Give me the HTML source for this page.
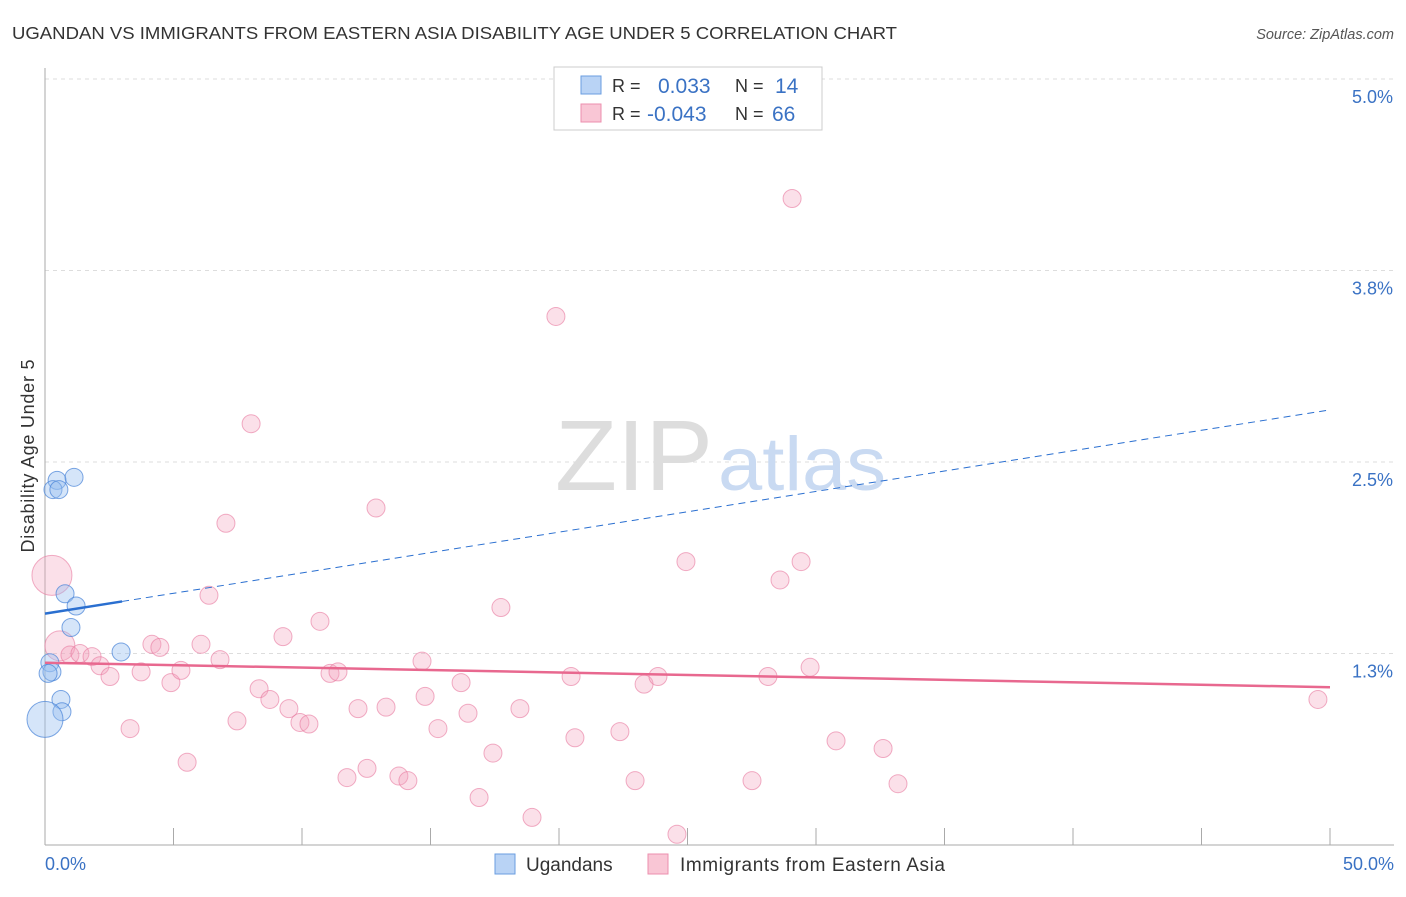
<!DOCTYPE html>
<html><head><meta charset="utf-8"><style>
body{margin:0;background:#fff;font-family:"Liberation Sans",sans-serif}
svg text{font-family:"Liberation Sans",sans-serif}
</style></head><body>
<svg width="1406" height="892">
<text x="12" y="39" font-size="17.5" fill="#333" textLength="885" lengthAdjust="spacingAndGlyphs">UGANDAN VS IMMIGRANTS FROM EASTERN ASIA DISABILITY AGE UNDER 5 CORRELATION CHART</text>
<text x="1394" y="39" font-size="14.5" fill="#555" font-style="italic" text-anchor="end">Source: ZipAtlas.com</text>
<g id="grid"></g>
<text x="555" y="490" font-size="100" fill="#ddd" font-family="Liberation Serif" textLength="158" lengthAdjust="spacingAndGlyphs">ZIP</text>
<text x="718" y="490" font-size="76" fill="#c9daf2" textLength="168" lengthAdjust="spacingAndGlyphs">atlas</text>
<g id="marks"></g>
<text transform="translate(34,456) rotate(-90)" font-size="18" fill="#333" text-anchor="middle" textLength="193">Disability Age Under 5</text>
<text x="45" y="870" font-size="18" fill="#3a72c4">0.0%</text>
<text x="1394" y="870" font-size="18" fill="#3a72c4" text-anchor="end">50.0%</text>
<g>
<rect x="554" y="67" width="268" height="63" fill="#fff" stroke="#ccc"/>
<rect x="581" y="76" width="20" height="18" fill="#b9d3f5" stroke="#6a9ee0"/>
<rect x="581" y="104" width="20" height="18" fill="#f9c6d5" stroke="#ec8fae"/>
<text x="612" y="92" font-size="18" fill="#333">R = </text><text x="658" y="93" font-size="21" fill="#3a72c4">0.033</text>
<text x="735" y="92" font-size="18" fill="#333">N = </text><text x="775" y="93" font-size="21" fill="#3a72c4">14</text>
<text x="612" y="120" font-size="18" fill="#333">R = </text><text x="647" y="121" font-size="21" fill="#3a72c4">-0.043</text>
<text x="735" y="120" font-size="18" fill="#333">N = </text><text x="772" y="121" font-size="21" fill="#3a72c4">66</text>
</g>
<g>
<rect x="495" y="854" width="20" height="20" fill="#b9d3f5" stroke="#6a9ee0"/>
<text x="526" y="871" font-size="19" fill="#333">Ugandans</text>
<rect x="648" y="854" width="20" height="20" fill="#f9c6d5" stroke="#ec8fae"/>
<text x="680" y="871" font-size="19" fill="#333" textLength="265">Immigrants from Eastern Asia</text>
</g>
</svg>
<script>
const yTicks=[1.25,2.5,3.75,5.0];
const yTickLabels=["1.3%","2.5%","3.8%","5.0%"];
const blueX=[0.47,0.31,0.54,1.13,0.78,1.21,1.01,2.96,0.19,0.27,0.12,0.62,0.66,0];
const blueY=[2.38,2.32,2.32,2.40,1.64,1.56,1.42,1.26,1.19,1.13,1.12,0.95,0.87,0.82];
const blueR=[9,9,9,9,9,9,9,9,9,9,9,9,9,18];
const pinkX=[0.27,0.58,0.97,1.36,1.83,2.14,2.53,3.31,3.74,4.16,4.47,4.90,5.29,5.53,6.07,6.38,6.81,7.04,7.47,8.02,8.33,8.75,9.26,9.49,9.92,10.27,10.70,11.09,11.40,11.75,12.18,12.53,12.88,13.27,13.77,14.12,14.67,14.79,15.29,16.19,16.46,16.89,17.43,17.74,18.48,18.95,19.88,20.47,20.62,22.37,22.96,23.31,23.85,24.59,24.94,27.51,28.13,28.60,29.07,29.42,29.77,30.78,32.61,33.19,49.53];
const pinkY=[1.76,1.30,1.24,1.25,1.23,1.17,1.10,0.76,1.13,1.31,1.29,1.06,1.14,0.54,1.31,1.63,1.21,2.10,0.81,2.75,1.02,0.95,1.36,0.89,0.80,0.79,1.46,1.12,1.13,0.44,0.89,0.50,2.20,0.90,0.45,0.42,1.20,0.97,0.76,1.06,0.86,0.31,0.60,1.55,0.89,0.18,3.45,1.10,0.70,0.74,0.42,1.05,1.10,0.07,1.85,0.42,1.10,1.73,4.22,1.85,1.16,0.68,0.63,0.40,0.95];
const pinkR=[20,15];
const blueTrend=[1.51,2.84];
const pinkTrend=[1.19,1.03];
const xTicks=[0,5,10,15,20,25,30,35,40,45,50];
const NS='http://www.w3.org/2000/svg';
const sx=v=>45+v*25.7, sy=v=>845-v*153.2;
function mk(t,a,p){const e=document.createElementNS(NS,t);for(const k in a)e.setAttribute(k,a[k]);p.appendChild(e);return e;}
const g=document.getElementById('grid'), m=document.getElementById('marks');
yTicks.forEach((t,i)=>{
 const l=mk('line',{x1:45,x2:1394,y1:sy(t),y2:sy(t),stroke:'#ddd','stroke-dasharray':'4,4'},g);
 
 
 const tx=mk('text',{x:1393,y:sy(t)+24,'font-size':18,fill:'#3a72c4','text-anchor':'end'},g);
 tx.textContent=yTickLabels[i];
 
 
});
const ax=mk('line',{x1:45,x2:1394,y1:845,y2:845,stroke:'#aaa'},g);


const ay=mk('line',{x1:45,x2:45,y1:68,y2:845,stroke:'#aaa'},g);


xTicks.forEach(t=>{
 const l=mk('line',{x1:sx(t),x2:sx(t),y1:828,y2:845,stroke:'#aaa'},g);
 
 
});
pinkX.forEach((x,i)=>{
 const c=mk('circle',{cx:sx(x),cy:sy(pinkY[i]),r:pinkR[i]||9,fill:'rgba(244,160,188,0.33)',stroke:'rgba(232,120,158,0.6)','stroke-width':1},m);
 
 
});
blueX.forEach((x,i)=>{
 const c=mk('circle',{cx:sx(x),cy:sy(blueY[i]),r:blueR[i],fill:'rgba(150,190,240,0.4)',stroke:'rgba(70,130,215,0.7)','stroke-width':1},m);
 
 
});
const bt=v=>blueTrend[0]+(blueTrend[1]-blueTrend[0])*v/50;
const l1=mk('line',{x1:sx(0),y1:sy(bt(0)),x2:sx(3),y2:sy(bt(3)),stroke:'#2a6fd0','stroke-width':2.5},m);


const l2=mk('line',{x1:sx(3),y1:sy(bt(3)),x2:sx(50),y2:sy(bt(50)),stroke:'#2a6fd0','stroke-width':1,'stroke-dasharray':'7,5'},m);


const l3=mk('line',{x1:sx(0),y1:sy(pinkTrend[0]),x2:sx(50),y2:sy(pinkTrend[1]),stroke:'#e8688f','stroke-width':2.5},m);


</script>
</body></html>
